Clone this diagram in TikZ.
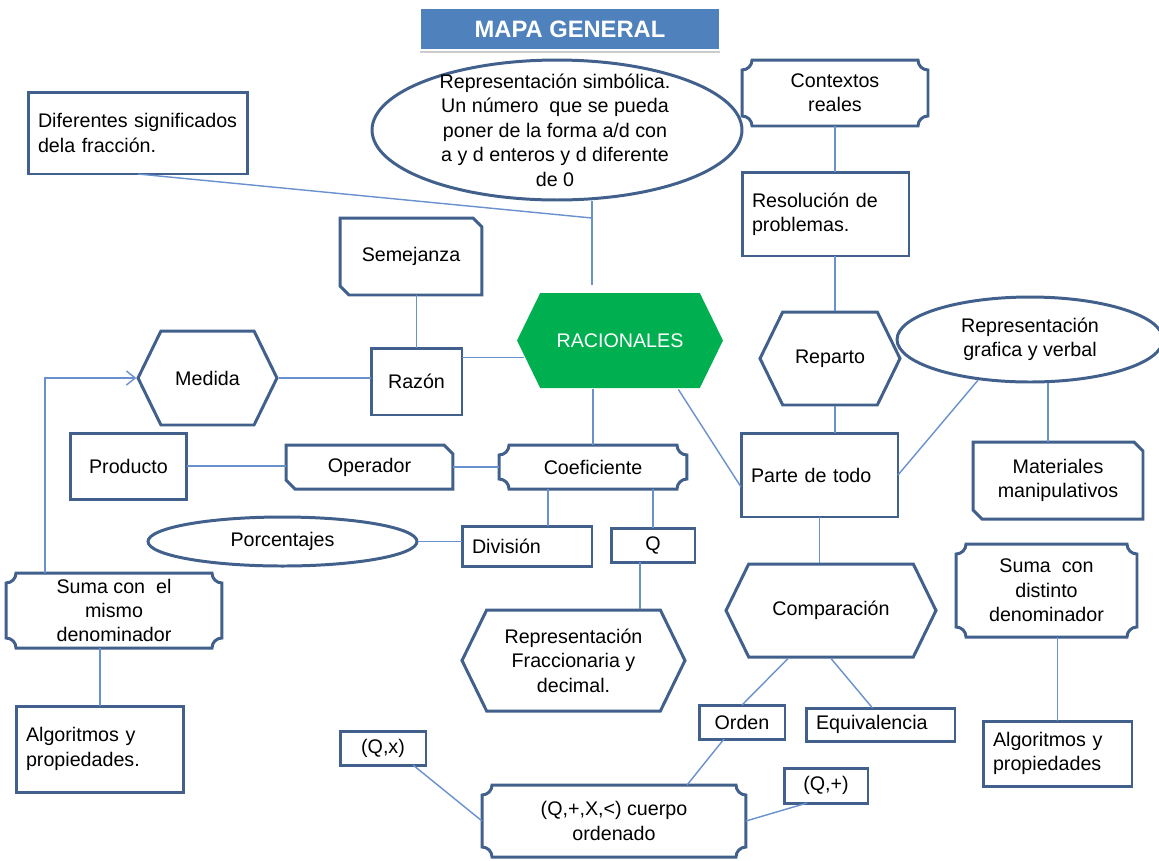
\documentclass[tikz,border=0pt]{standalone}
\usepackage{fontspec}
\setmainfont{Liberation Sans}
\usepackage{tikz}
\usetikzlibrary{arrows.meta,shapes.geometric,shapes.symbols,shadows}

\definecolor{bordc}{RGB}{65,96,140}
\definecolor{linec}{RGB}{105,145,205}
\definecolor{racgreen}{RGB}{0,176,80}
\definecolor{titleblue}{RGB}{79,129,189}

\begin{document}
\begin{tikzpicture}[x=0.02cm,y=-0.02cm,
  font=\fontsize{11.2}{13.9}\selectfont,
  box/.style={rectangle,draw=bordc,line width=1.7pt,inner sep=2pt,outer sep=0pt,align=center},
  lbox/.style={box,align=left,inner xsep=0.2cm},
  bubble/.style={ellipse,draw=bordc,line width=1.7pt,inner sep=1pt,align=center},
  hexa/.style={signal,signal to=west and east,signal pointer angle=128,
    draw=bordc,line width=1.7pt,inner sep=1pt,align=center},
  snip/.style={rectangle,inner sep=2pt,outer sep=0pt,align=center,
    append after command={\pgfextra{\edef\hn{\tikzlastnode}
      \draw[bordc,line width=1.7pt] (\hn.north west)
        -- ([xshift=-0.18cm]\hn.north east) -- ([yshift=-0.18cm]\hn.north east)
        -- (\hn.south east) -- ([xshift=0.18cm]\hn.south west)
        -- ([yshift=0.18cm]\hn.south west) -- cycle;}}},
  plaque/.style={rectangle,inner sep=2pt,outer sep=0pt,align=center,
    append after command={\pgfextra{\edef\hn{\tikzlastnode}
      \draw[bordc,line width=1.7pt]
        ([yshift=-0.2cm]\hn.north west) arc[start angle=-90,end angle=0,radius=0.2cm]
        -- ([xshift=-0.2cm]\hn.north east) arc[start angle=180,end angle=270,radius=0.2cm]
        -- ([yshift=0.2cm]\hn.south east) arc[start angle=90,end angle=180,radius=0.2cm]
        -- ([xshift=0.2cm]\hn.south west) arc[start angle=0,end angle=90,radius=0.2cm]
        -- cycle;}}},
  link/.style={draw=linec,line width=0.8pt}]
  \useasboundingbox (0,0) rectangle (1159,860);

  % titulo
  \node[draw=white,line width=1.5pt,fill=titleblue,text=white,
    font=\fontsize{13.5}{16}\selectfont\bfseries,minimum width=6cm,minimum height=0.84cm,
    drop shadow={shadow xshift=0pt,shadow yshift=-1.5pt,opacity=0.4}] (title) at (570,29) {MAPA GENERAL};

  % parte superior
  \node[lbox,minimum width=4.4cm,minimum height=1.64cm,text width=4.0cm] (dif) at (138,133)
    {Diferentes significados\\dela fracción.};
  \node[bubble,minimum width=7.4cm,minimum height=2.8cm] (simb) at (557,130) {};
  \node[align=center] (simbtxt) at (555,130) {Representación simbólica.\\Un número\ \ que se pueda\\
    poner de la forma a/d con\\a y d enteros y d diferente\\de 0};
  \node[plaque,minimum width=3.72cm,minimum height=1.32cm] (ctx) at (835,93) {Contextos\\reales};
  \node[lbox,minimum width=3.34cm,minimum height=1.68cm,text width=2.94cm] (res) at (825.5,214)
    {Resolución de\\problemas.};
  \node[snip,minimum width=2.84cm,minimum height=1.54cm] (semej) at (411,256.5) {Semejanza};

  % centro
  \node[hexa,fill=racgreen,draw=none,text=white,minimum width=4.12cm,minimum height=1.9cm] (rac)
    at (620,340.5) {RACIONALES};
  \node[box,minimum width=1.82cm,minimum height=1.34cm] (razon) at (416.5,381.5) {Razón};
  \node[hexa,minimum width=2.78cm,minimum height=1.88cm] (med) at (207.5,378) {Medida};
  \node[hexa,minimum width=2.8cm,minimum height=1.86cm] (rep) at (830,358.5) {Reparto};
  \node[bubble,minimum width=5.32cm,minimum height=1.7cm] (repg) at (1030,339.5)
    {Representación\\grafica y verbal};
  \node[lbox,minimum width=3.14cm,minimum height=1.68cm,text width=2.74cm] (parte) at (819.5,475)
    {Parte de todo};
  \node[snip,minimum width=3.4cm,minimum height=1.54cm] (mat) at (1058,480.5)
    {Materiales\\manipulativos};
  \node[box,minimum width=2.34cm,minimum height=1.32cm] (prod) at (128.5,466) {Producto};
  \node[snip,minimum width=3.34cm,minimum height=0.88cm] (oper) at (369.5,467) {Operador};
  \node[plaque,minimum width=3.76cm,minimum height=0.88cm] (coef) at (593,467) {Coeficiente};
  \node[bubble,minimum width=5.38cm,minimum height=0.98cm] (porc) at (282.5,541.5) {Porcentajes};
  \node[lbox,minimum width=2.6cm,minimum height=0.8cm,text width=2.2cm] (div) at (527,546) {División};
  \node[box,minimum width=1.68cm,minimum height=0.68cm] (q) at (653,545) {Q};

  % parte inferior
  \node[plaque,minimum width=4.32cm,minimum height=1.5cm] (sumaA) at (114,610.5)
    {Suma con\ \ el\\mismo\\denominador};
  \node[lbox,minimum width=3.36cm,minimum height=1.72cm,text width=2.96cm] (alg1) at (100,749)
    {Algoritmos y\\propiedades.};
  \node[hexa,minimum width=4.46cm,minimum height=2.02cm] (fracc) at (573.5,660.5)
    {Representación\\Fraccionaria y\\decimal.};
  \node[hexa,minimum width=4.2cm,minimum height=1.86cm] (comp) at (831,610.5) {Comparación};
  \node[plaque,minimum width=3.62cm,minimum height=1.86cm] (sumaB) at (1046.5,590.5)
    {Suma\ \ con\\distinto\\denominador};
  \node[box,minimum width=1.72cm,minimum height=0.68cm] (orden) at (742,722) {Orden};
  \node[lbox,minimum width=2.98cm,minimum height=0.66cm,text width=2.58cm] (equiv) at (880.5,724.5)
    {Equivalencia};
  \node[lbox,minimum width=2.98cm,minimum height=1.3cm,text width=2.58cm] (alg2) at (1057.5,753.5)
    {Algoritmos y\\propiedades};
  \node[box,minimum width=1.72cm,minimum height=0.68cm] (qx) at (383,748) {(Q,x)};
  \node[box,minimum width=1.68cm,minimum height=0.7cm] (qplus) at (826,785.5) {(Q,+)};
  \node[plaque,minimum width=5.28cm,minimum height=1.44cm] (cuerpo) at (614,821)
    {(Q,+,X,<) cuerpo\\ordenado};

  \coordinate (j1) at (592,218);
  \coordinate (j2) at (592,285);
  \coordinate (j4) at (45,378);

  \path[link]
    (dif.south) edge (j1)
    (simb.south -| j1) edge (j2)
    (ctx.south) edge (ctx.south |- res.north)
    (ctx.south |- res.south) edge (ctx.south |- rep.north)
    (ctx.south |- rep.south) edge (ctx.south |- parte.north)
    (razon.north) edge (razon.north |- semej.south)
    (rac.190 -| razon.east) edge (rac.190)
    (med.east) edge (med.east -| razon.west)
    (coef.north) edge (coef.north |- rac.south)
    (rac.-40) edge ([yshift=-0.24cm]parte.west)
    (prod.east) edge (prod.east -| oper.west)
    (oper.east) edge (coef.west)
    ([xshift=-0.9cm]coef.south) edge ([xshift=-0.9cm]coef.south |- div.north)
    (q.north) edge (q.north |- coef.south)
    (porc.east) edge (porc.east -| div.west)
    ([xshift=-0.26cm]q.south) edge ([xshift=-0.26cm]q.south |- fracc.north)
    (alg1.north) edge (alg1.north |- sumaA.south)
    ([xshift=0.6cm]qx.south) edge (cuerpo.west)
    ([xshift=-0.36cm]orden.south) edge ([xshift=1.46cm]cuerpo.north)
    ([xshift=-0.38cm]qplus.south) edge (cuerpo.east)
    ([xshift=-0.86cm]comp.south) edge (orden.north)
    (comp.south) edge ([xshift=-0.16cm]equiv.north)
    (parte.south) edge (parte.south |- comp.north)
    (repg.218) edge (parte.east)
    ([xshift=-0.2cm]mat.north) edge ([xshift=-0.2cm]mat.north |- repg.south)
    (alg2.north) edge (alg2.north |- sumaB.south);
  \draw[link,-{Straight Barb[length=5pt,width=8pt]}] (j4 |- sumaA.north) -- (j4) -- (med.west);
\end{tikzpicture}
\end{document}
